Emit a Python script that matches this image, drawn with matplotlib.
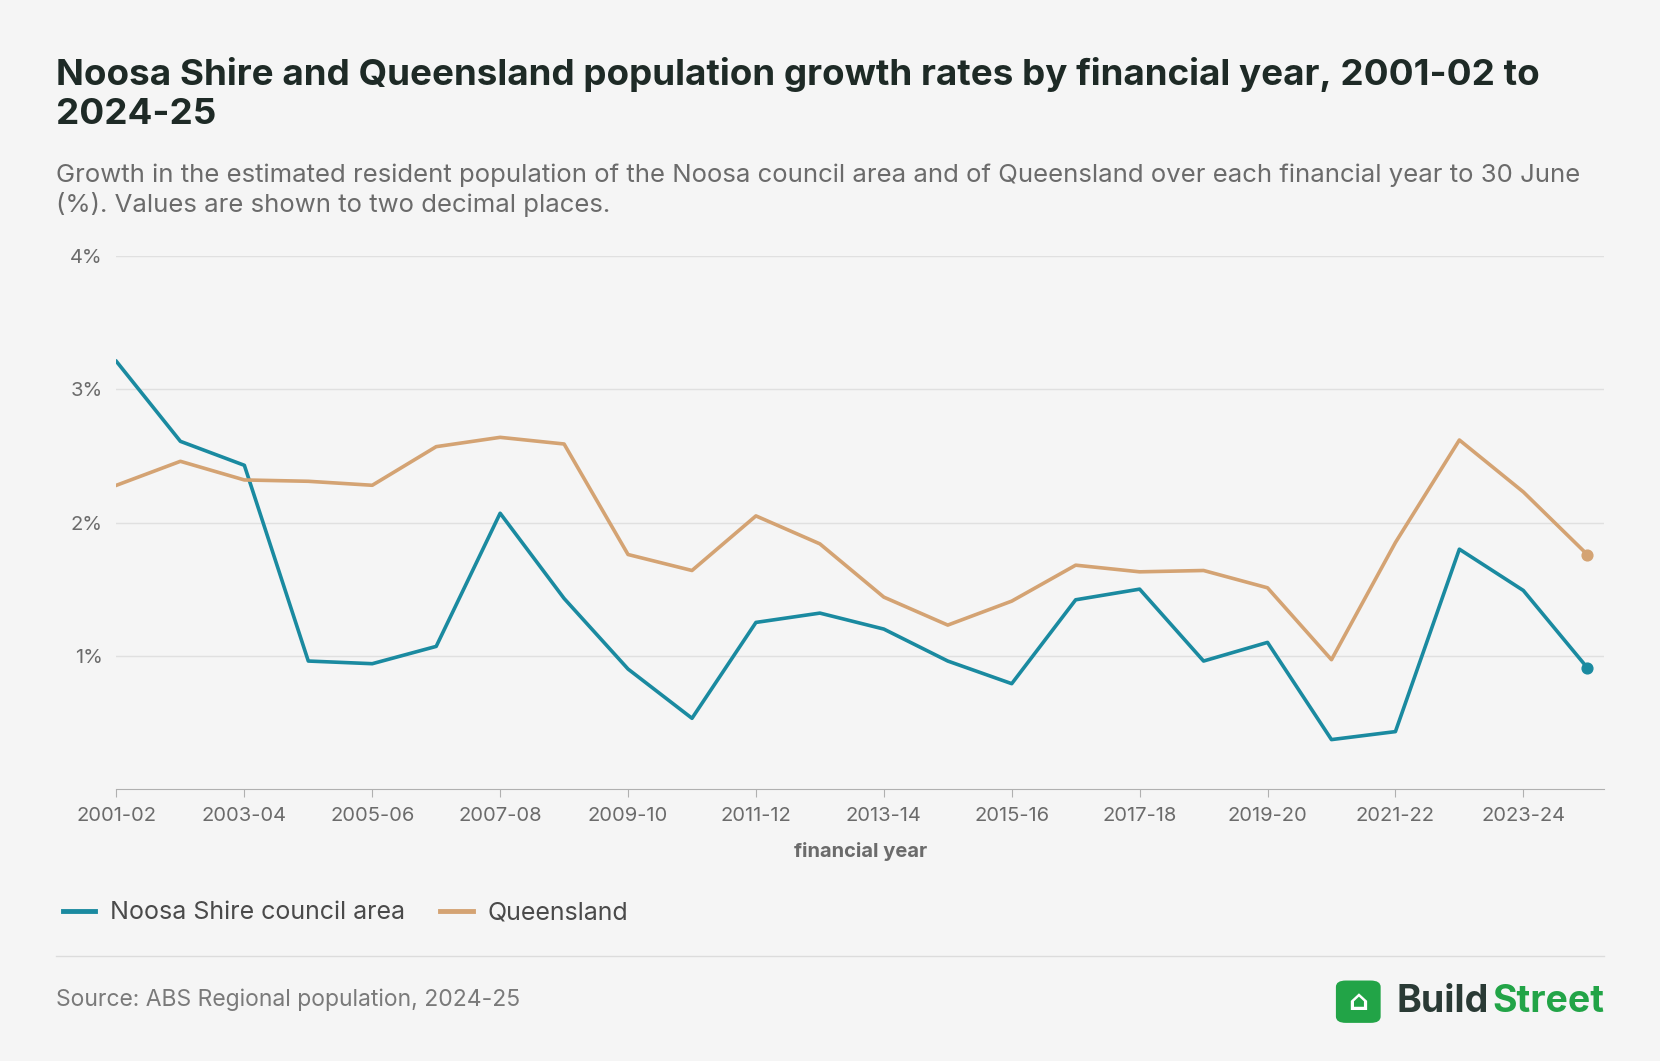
import matplotlib.pyplot as plt
from matplotlib.patches import FancyBboxPatch
from matplotlib.lines import Line2D

plt.rcParams['font.family'] = ['Inter', 'DejaVu Sans']

years = ['2001-02', '2002-03', '2003-04', '2004-05', '2005-06', '2006-07', '2007-08', '2008-09',
         '2009-10', '2010-11', '2011-12', '2012-13', '2013-14', '2014-15', '2015-16', '2016-17',
         '2017-18', '2018-19', '2019-20', '2020-21', '2021-22', '2022-23', '2023-24', '2024-25']
noosa = [3.21, 2.61, 2.43, 0.96, 0.94, 1.07, 2.07, 1.43, 0.90, 0.53, 1.25, 1.32, 1.20, 0.96,
         0.79, 1.42, 1.50, 0.96, 1.10, 0.37, 0.43, 1.80, 1.49, 0.91]
qld = [2.28, 2.46, 2.32, 2.31, 2.28, 2.57, 2.64, 2.59, 1.76, 1.64, 2.05, 1.84, 1.44, 1.23,
       1.41, 1.68, 1.63, 1.64, 1.51, 0.97, 1.85, 2.62, 2.23, 1.76]

c_noosa = '#1a8aa0'
c_qld = '#d4a373'
bg = '#f5f5f5'
W, H = 1568, 1002

fig = plt.figure(figsize=(16.6, 10.61), dpi=100)
fig.patch.set_facecolor(bg)

def fx(x):
    return x / W

def fy(y):
    return 1 - y / H

ax = fig.add_axes([fx(110), fy(745), fx(1515) - fx(110), fy(242) - fy(745)])
ax.set_facecolor(bg)
x = list(range(len(years)))
ax.plot(x, noosa, color=c_noosa, lw=2.6, solid_joinstyle='round')
ax.plot(x, qld, color=c_qld, lw=2.6, solid_joinstyle='round')
ax.scatter([x[-1]], [noosa[-1]], color=c_noosa, s=60, zorder=5)
ax.scatter([x[-1]], [qld[-1]], color=c_qld, s=60, zorder=5)
ax.set_xlim(0, 23.26)
ax.set_ylim(0, 4)
ax.set_yticks([1, 2, 3, 4])
ax.set_yticklabels(['1%', '2%', '3%', '4%'])
ax.set_xticks(x[::2])
ax.set_xticklabels(years[::2])
ax.grid(axis='y', color='#e0e0e0', lw=1)
ax.set_axisbelow(True)
for s in ['top', 'right', 'left']:
    ax.spines[s].set_visible(False)
ax.spines['bottom'].set_color('#b0b0b0')
ax.tick_params(axis='y', length=0, pad=10, labelsize=14.5, labelcolor='#6b6b6b')
ax.tick_params(axis='x', length=6, color='#b0b0b0', pad=7, labelsize=14.5, labelcolor='#6b6b6b')
ax.set_xlabel('financial year', fontsize=14.5, color='#6b6b6b', fontweight='bold', labelpad=12)

fig.text(fx(53), fy(89), 'Noosa Shire and Queensland population growth rates by financial year, 2001-02 to\n2024-25',
         fontsize=26.5, fontweight='bold', color='#1e2a26', va='center', linespacing=1.25)
fig.text(fx(53), fy(180), 'Growth in the estimated resident population of the Noosa council area and of Queensland over each financial year to 30 June\n(%). Values are shown to two decimal places.',
         fontsize=18.5, color='#6b6b6b', va='center', linespacing=1.25)

handles = [Line2D([], [], color=c_noosa, lw=3.5), Line2D([], [], color=c_qld, lw=3.5)]
fig.legend(handles, ['Noosa Shire council area', 'Queensland'], loc='center left',
           bbox_to_anchor=(fx(38), fy(862)), ncol=2, frameon=False, fontsize=18,
           labelcolor='#4a4a4a', handlelength=1.3, handletextpad=0.6, columnspacing=1.4)

fig.add_artist(Line2D([fx(53), fx(1515)], [fy(903), fy(903)], color='#dcdcdc', lw=1))
fig.text(fx(53), fy(944), 'Source: ABS Regional population, 2024-25', fontsize=16.5, color='#7a7a7a', va='center')

fig.add_artist(FancyBboxPatch((fx(1265), fy(964)), fx(36), fy(928) - fy(964),
                              boxstyle='round,pad=0.002,rounding_size=0.006', fc='#22a447', ec='none'))
fig.text(fx(1283), fy(947), '⌂', fontsize=20, color='white', ha='center', va='center', fontweight='bold')
fig.text(fx(1515), fy(946), 'Street', fontsize=27, fontweight='bold', color='#22a447', va='center', ha='right')
fig.text(fx(1406), fy(946), 'Build', fontsize=27, fontweight='bold', color='#2a3a35', va='center', ha='right')

fig.savefig('out.png', dpi=100, facecolor=bg)
